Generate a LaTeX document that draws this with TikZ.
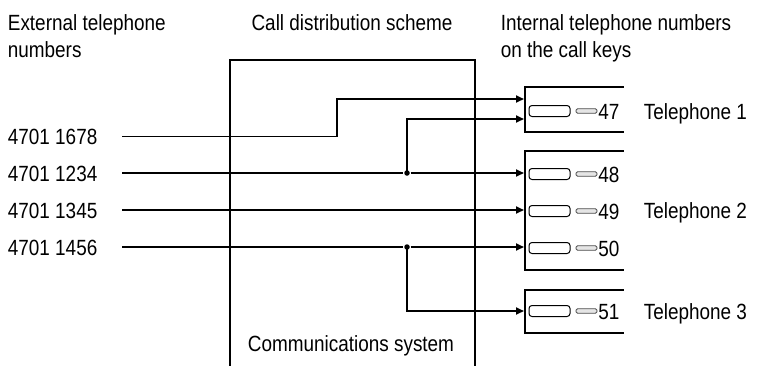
\documentclass[tikz,border=0pt]{standalone}
\usepackage{fontspec}
\setmainfont{Liberation Sans}[FakeStretch=0.86]
\usetikzlibrary{arrows.meta, positioning}

\begin{document}
\begin{tikzpicture}[
        x=1pt, y=-1pt,
        font=\fontsize{22}{27}\selectfont,
        >={Triangle[length=8pt, width=7pt]},
        line width=1.8pt,
        label/.style={inner sep=0pt, anchor=base west, align=left},
        wire/.style={line width=1.8pt},
        frame/.style={line width=1.8pt, line cap=rect},
        callkey/.style={draw, line width=1pt, rounded corners=3pt,
            minimum width=41pt, minimum height=11pt, inner sep=0pt},
        keybar/.style={draw=black!70, fill=gray!20, line width=0.8pt, rounded corners=1.5pt,
            minimum width=21pt, minimum height=4.5pt, inner sep=0pt},
        jdot/.style={circle, fill, inner sep=0pt, minimum size=5.5pt}
    ]

        \useasboundingbox (0,0) rectangle (766,365);

        % headings
        \node[label] (hext) at (7,57)   {External telephone\\numbers};
        \node[inner sep=0pt, anchor=base] (hcds) at (352,30) {Call distribution scheme};
        \node[label] (hint) at (500,57) {Internal telephone numbers\\on the call keys};

        % communications system
        \draw[frame] (230,365) -- (230,60) -- (475,60) -- (475,365);
        \node[inner sep=0pt, anchor=base] (csys) at (351,351) {Communications system};

        % external numbers
        \node[label] (ext1) at (7,144.5) {4701 1678};
        \node[label] (ext2) at (7,181)   {4701 1234};
        \node[label] (ext3) at (7,218)   {4701 1345};
        \node[label] (ext4) at (7,255)   {4701 1456};

        \coordinate (s1) at (122,136.5);
        \coordinate (s2) at (122,173);
        \coordinate (s3) at (122,210);
        \coordinate (s4) at (122,247);

        % telephones
        \draw[frame] (623,87)  -- (525,87)  -- (525,132) -- (623,132);
        \draw[frame] (623,151) -- (525,151) -- (525,270) -- (623,270);
        \draw[frame] (623,290) -- (525,290) -- (525,333) -- (623,333);

        \node[label] (tel1) at (643,119) {Telephone 1};
        \node[label] (tel2) at (643,218) {Telephone 2};
        \node[label] (tel3) at (643,319) {Telephone 3};

        % call keys
        \foreach \num/\ypos in {47/111, 48/174, 49/211, 50/248, 51/311} {
            \node[callkey] (key\num) at (549.5,\ypos) {};
            \node[keybar] (bar\num) at (586.5,\ypos) {};
            \node[label] (num\num) at (597.5,\ypos+8) {\num};
        }

        \coordinate (e1) at (524,99);
        \coordinate (e2) at (524,119);
        \coordinate (e3) at (524,173);
        \coordinate (e4) at (524,210);
        \coordinate (e5) at (524,247);
        \coordinate (e6) at (524,311);

        \node[jdot] (j2) at (407,173) {};
        \node[jdot] (j4) at (407,247) {};

        % connections
        \draw[wire, ->] (s1) -| (337,99) -- (e1);
        \draw[wire] (s2) -- (j2);
        \draw[wire, ->] (j2) -- (e3);
        \draw[wire, ->] (j2.center) |- (e2);
        \draw[wire, ->] (s3) -- (e4);
        \draw[wire] (s4) -- (j4);
        \draw[wire, ->] (j4) -- (e5);
        \draw[wire, ->] (j4.center) |- (e6);

    \end{tikzpicture}
\end{document}
